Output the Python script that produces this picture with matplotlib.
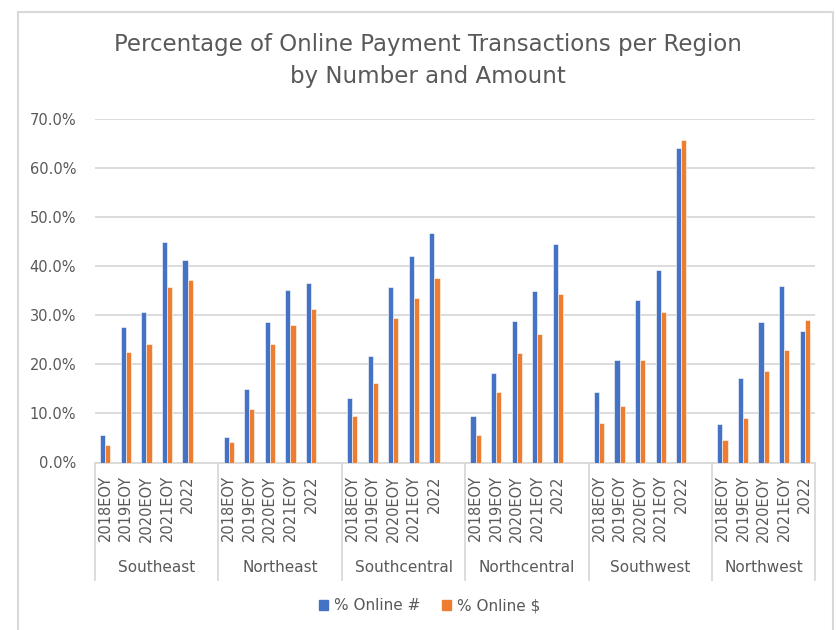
import numpy as np
import matplotlib
matplotlib.use('agg')
import matplotlib.pyplot as plt
from matplotlib.patches import Rectangle, Patch
import matplotlib.transforms as mtransforms

## data
regions = ["Southeast", "Northeast", "Southcentral", "Northcentral", "Southwest", "Northwest"]
periods = ["2018EOY", "2019EOY", "2020EOY", "2021EOY", "2022"]

online_num = [5.7, 27.6, 30.7, 45.0, 41.3,
              5.2, 14.9, 28.6, 35.1, 36.7,
              13.1, 21.8, 35.7, 42.2, 46.8,
              9.5, 18.2, 28.8, 34.9, 44.6,
              14.3, 21.0, 33.1, 39.2, 64.1,
              7.8, 17.2, 28.6, 36.1, 26.9]
online_amt = [3.5, 22.6, 24.1, 35.7, 37.3,
              4.1, 10.9, 24.1, 28.0, 31.3,
              9.5, 16.2, 29.5, 33.5, 37.6,
              5.7, 14.3, 22.4, 26.2, 34.4,
              8.0, 11.6, 21.0, 30.7, 65.8,
              4.5, 9.1, 18.6, 22.9, 29.1]

blue = '#4472C4'
orange = '#ED7D31'
grid_c = '#D9D9D9'
text_c = '#595959'

# slot positions: a blank slot after each region except the last
n_per = len(periods)
xpos = []
for g in range(len(regions)):
    for k in range(n_per):
        xpos.append(g * (n_per + 1) + k)
xpos = np.array(xpos, dtype=float)
n_slots = len(regions) * (n_per + 1) - 1

fig = plt.figure(figsize=(8.36, 6.30), dpi=100)
ax = fig.add_axes([95/836, 1 - 462.5/630, 720/836, (462.5 - 119.3)/630])

w = 0.25
ax.bar(xpos - w/2, online_num, width=w, color=blue, edgecolor='white', linewidth=0.4, zorder=3)
ax.bar(xpos + w/2, online_amt, width=w, color=orange, edgecolor='white', linewidth=0.4, zorder=3)

ax.set_xlim(-0.5, n_slots - 0.5)
ax.set_ylim(0, 70)
ax.set_yticks(np.arange(0, 71, 10))
ax.set_yticklabels(['%.1f%%' % v for v in np.arange(0, 71, 10)], fontsize=10.5, color=text_c)
ax.tick_params(axis='y', length=0, pad=13.5)
ax.set_xticks([])
ax.yaxis.grid(True, color=grid_c, linewidth=1.3, zorder=0)
for s in ['top', 'right', 'left']:
    ax.spines[s].set_visible(False)
ax.spines['bottom'].set_color(grid_c)
ax.spines['bottom'].set_linewidth(1.3)

trans = mtransforms.blended_transform_factory(ax.transData, ax.transAxes)
# inner category labels
for x, lab in zip(xpos, periods * len(regions)):
    ax.text(x, -0.037, lab, rotation=90, ha='center', va='top', fontsize=10.5,
            color=text_c, transform=trans)
# region dividers and labels
edges = [-0.5] + [g * (n_per + 1) + n_per + 0.5 for g in range(len(regions) - 1)] + [n_slots - 0.5]
for e in edges:
    ax.plot([e, e], [0, -0.341], color=grid_c, linewidth=1.3, transform=trans, clip_on=False)
for g, reg in enumerate(regions):
    ax.text((edges[g] + edges[g + 1]) / 2, -0.307, reg, ha='center', va='center',
            fontsize=11, color=text_c, transform=trans)

fig.text(0.512, 1 - 45/630, 'Percentage of Online Payment Transactions per Region',
         ha='center', va='center', fontsize=16.5, color=text_c)
fig.text(0.512, 1 - 77/630, 'by Number and Amount',
         ha='center', va='center', fontsize=16.5, color=text_c)

handles = [Patch(color=blue, label='% Online #'), Patch(color=orange, label='% Online $')]
fig.legend(handles=handles, loc='center', bbox_to_anchor=(430/836, 1 - 606/630), ncol=2,
           frameon=False, fontsize=11, handlelength=0.6, handleheight=0.6,
           handletextpad=0.4, columnspacing=1.4, labelcolor=text_c)

# chart area border
fig.add_artist(Rectangle((18/836, -0.1), 815/836, 1.1 - 12/630, transform=fig.transFigure,
                         fill=False, edgecolor=grid_c, linewidth=1.5))

plt.savefig('out.png', dpi=100)
